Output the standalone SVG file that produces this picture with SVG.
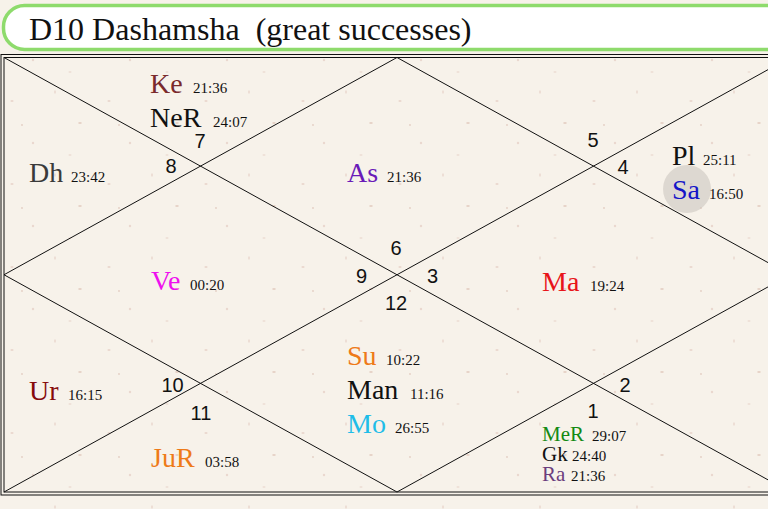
<svg xmlns="http://www.w3.org/2000/svg" width="768" height="509" viewBox="0 0 768 509">
<defs>
<style>
.pl{font-family:"Liberation Serif","Times New Roman",serif;font-size:28px}
.sm{font-family:"Liberation Serif","Times New Roman",serif;font-size:21px}
.dg{font-family:"Liberation Serif","Times New Roman",serif;font-size:15px;fill:#111}
.hn{font-family:"Liberation Sans",Arial,sans-serif;font-size:20px;fill:#111;text-anchor:middle}
.ln{stroke:#111;stroke-width:1;fill:none}
</style>
<pattern id="spk" width="97" height="83" patternUnits="userSpaceOnUse">
<rect width="97" height="83" fill="#f7f2ea"/>
<ellipse cx="12" cy="18" rx="1.6" ry="1" fill="#ead8cf"/>
<ellipse cx="55" cy="9" rx="1" ry="1.8" fill="#ecdcd3"/>
<ellipse cx="80" cy="40" rx="1.8" ry="1.1" fill="#e6d2c6"/>
<ellipse cx="33" cy="60" rx="1.2" ry="1.2" fill="#ead8cf"/>
<ellipse cx="70" cy="72" rx="1.5" ry="0.9" fill="#eee0d7"/>
<ellipse cx="22" cy="42" rx="0.9" ry="0.9" fill="#e4cfc4"/>
</pattern>
</defs>
<rect x="0" y="0" width="768" height="509" fill="url(#spk)"/>
<g id="title">
<rect x="3.5" y="5.5" width="820" height="44" rx="21" fill="#ffffff" stroke="#8edb6c" stroke-width="3.5"/>
<text x="29" y="40" style="font-family:'Liberation Serif','Times New Roman',serif;font-size:32px;white-space:pre" fill="#111">D10 Dashamsha  (great successes)</text>
</g>
<g id="connectors">
<rect x="1" y="54.5" width="820" height="440.5" class="ln" stroke-width="1.2"/>
<rect x="4" y="57.5" width="786" height="434.5" class="ln" stroke-width="1.3"/>
<line x1="4" y1="57.5" x2="790" y2="492" class="ln"/>
<line x1="4" y1="492" x2="790" y2="57.5" class="ln"/>
<polygon points="397,57.5 4,274.75 397,492 790,274.75" class="ln"/>
</g>
<g id="house1">
<text class="hn" x="593" y="418">1</text>
<text class="sm" x="542" y="441" fill="#138a13">MeR</text><text class="dg" x="592" y="441">29:07</text>
<text class="sm" x="542" y="461" fill="#111">Gk</text><text class="dg" x="572" y="461">24:40</text>
<text class="sm" x="542" y="481" fill="#6b3d7d">Ra</text><text class="dg" x="571" y="481">21:36</text>
</g>
<g id="house2">
<text class="hn" x="625" y="392">2</text>
</g>
<g id="house3">
<text class="hn" x="432.5" y="283">3</text>
<text class="pl" x="542" y="291" fill="#e8141a">Ma</text><text class="dg" x="590" y="291">19:24</text>
</g>
<g id="house4">
<text class="hn" x="623" y="174">4</text>
<circle cx="687" cy="189" r="24" fill="#c8c2bc" fill-opacity="0.55"/>
<text class="pl" x="672" y="165" fill="#111">Pl</text><text class="dg" x="703" y="165">25:11</text>
<text class="pl" x="672" y="199" fill="#1515c8">Sa</text><text class="dg" x="709" y="199">16:50</text>
</g>
<g id="house5">
<text class="hn" x="593" y="147">5</text>
</g>
<g id="house6">
<text class="hn" x="396" y="255">6</text>
<text class="pl" x="347" y="182" fill="#6a1ab8">As</text><text class="dg" x="387" y="182">21:36</text>
</g>
<g id="house7">
<text class="hn" x="200" y="148">7</text>
<text class="pl" x="150" y="93" fill="#7a2a2c">Ke</text><text class="dg" x="193" y="93">21:36</text>
<text class="pl" x="150" y="127" fill="#111">NeR</text><text class="dg" x="213" y="127">24:07</text>
</g>
<g id="house8">
<text class="hn" x="171" y="173">8</text>
<text class="pl" x="29" y="182" fill="#3a3a3a">Dh</text><text class="dg" x="71" y="182">23:42</text>
</g>
<g id="house9">
<text class="hn" x="361.5" y="283">9</text>
<text class="pl" x="151" y="290" fill="#ee10ee">Ve</text><text class="dg" x="190" y="290">00:20</text>
</g>
<g id="house10">
<text class="hn" x="172.5" y="392">10</text>
<text class="pl" x="29" y="400" fill="#860a0a">Ur</text><text class="dg" x="68" y="400">16:15</text>
</g>
<g id="house11">
<text class="hn" x="201" y="420">11</text>
<text class="pl" x="151" y="467" fill="#ee7a18">JuR</text><text class="dg" x="205" y="467">03:58</text>
</g>
<g id="house12">
<text class="hn" x="396" y="310">12</text>
<text class="pl" x="347" y="365" fill="#ee7a18">Su</text><text class="dg" x="386" y="365">10:22</text>
<text class="pl" x="347" y="399" fill="#111">Man</text><text class="dg" x="410" y="399">11:16</text>
<text class="pl" x="347" y="433" fill="#1fbde8">Mo</text><text class="dg" x="395" y="433">26:55</text>
</g>
</svg>
